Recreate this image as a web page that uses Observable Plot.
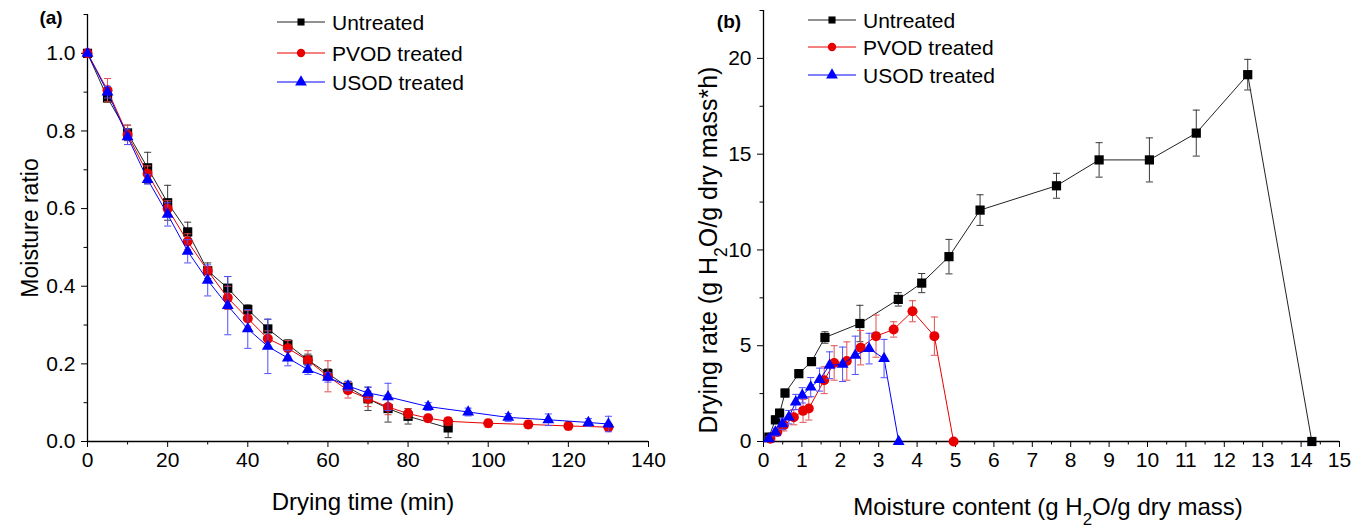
<!DOCTYPE html>
<html><head><meta charset="utf-8">
<script src="https://cdn.jsdelivr.net/npm/d3@7"></script>
<script src="https://cdn.jsdelivr.net/npm/@observablehq/plot@0.6"></script>
<style>
body{margin:0;background:#fff;}
#wrap{position:relative;width:1358px;height:527px;overflow:hidden;font-family:"Liberation Sans",Arial,sans-serif;}
#wrap svg{position:absolute;top:0;}
</style></head><body><div id="wrap"></div>
<script>
// ---------- Panel (a): moisture ratio vs drying time ----------
const seriesNames = ["Untreated", "PVOD treated", "USOD treated"];

const timeUntreated = [0,5,10,15,20,25,30,35,40,45,50,55,60,65,70,75,80,90];
const mrUntreated   = [1.0,0.885,0.795,0.705,0.615,0.54,0.44,0.395,0.34,0.29,0.25,0.21,0.175,0.14,0.11,0.085,0.065,0.035];
const mrErrUntreated= [0,0.01,0.02,0.04,0.045,0.025,0.02,0.03,0.012,0.025,0.012,0.015,0.012,0.015,0.03,0.035,0.02,0.025];

const timePVOD = [0,5,10,15,20,25,30,35,40,45,50,55,60,65,70,75,80,85,90,100,110,120,130];
const mrPVOD   = [1.0,0.905,0.79,0.69,0.6,0.515,0.44,0.37,0.317,0.265,0.24,0.209,0.168,0.132,0.11,0.089,0.072,0.06,0.052,0.047,0.044,0.04,0.037];
const mrErrPVOD= [0,0.03,0.025,0.02,0.02,0.02,0.01,0.03,0.02,0.02,0.02,0.025,0.04,0.02,0.02,0.02,0.012,0.01,0.01,0.01,0.01,0.01,0.01];

const timeUSOD = [0,5,10,15,20,25,30,35,40,45,50,55,60,65,70,75,85,95,105,115,125,130];
const mrUSOD   = [1.0,0.9,0.785,0.675,0.585,0.49,0.415,0.35,0.29,0.245,0.215,0.185,0.165,0.143,0.125,0.115,0.09,0.076,0.062,0.056,0.049,0.045];
const mrErrUSOD= [0,0.015,0.02,0.012,0.03,0.03,0.04,0.075,0.05,0.07,0.02,0.012,0.012,0.012,0.015,0.035,0.01,0.01,0.01,0.015,0.01,0.02];

const timeTicks = [0,20,40,60,80,100,120,140];
const mrTicks = [0,0.2,0.4,0.6,0.8,1.0];

// ---------- Panel (b): drying rate vs moisture content ----------
const mcUntreated   = [0.14,0.31,0.42,0.56,0.92,1.25,1.6,2.51,3.51,4.12,4.83,5.64,7.63,8.74,10.05,11.27,12.61,14.28];
const rateUntreated = [0.23,1.13,1.48,2.53,3.54,4.17,5.43,6.16,7.42,8.27,9.65,12.08,13.35,14.7,14.7,16.1,19.15,0];
const rateErrUntreated = [0.15,0.2,0.2,0.2,0.2,0.2,0.3,0.95,0.35,0.5,0.9,0.8,0.65,0.9,1.15,1.2,0.8,0];

const mcPVOD   = [0.18,0.36,0.53,0.79,1.03,1.18,1.58,1.84,2.17,2.53,2.93,3.39,3.88,4.45,4.95];
const ratePVOD = [0.15,0.5,0.85,1.27,1.6,1.72,3.2,4.1,4.2,4.9,5.5,5.85,6.8,5.5,0];
const rateErrPVOD = [0.15,0.2,0.3,0.4,0.6,0.6,0.7,0.9,1.0,0.9,1.1,0.4,0.55,1.0,0];

const mcUSOD   = [0.14,0.31,0.49,0.66,0.84,1.01,1.23,1.46,1.72,2.06,2.39,2.75,3.14,3.52];
const rateUSOD = [0.14,0.49,0.92,1.27,2.06,2.41,2.84,3.23,3.98,4.03,4.5,4.85,4.33,0];
const rateErrUSOD = [0.1,0.2,0.3,0.35,0.4,0.4,0.5,0.6,0.7,0.9,1.0,0.8,1.0,0];

const mcTicks = [0,1,2,3,4,5,6,7,8,9,10,11,12,13,14,15];
const rateTicks = [0,5,10,15,20];

// ---------- styling ----------
const colors    = ["#000000", "#e80000", "#0000ff"];
const barColors = ["#3a3a3a", "#e25050", "#4f4fff"];
const lineColors= ["#222222", "#e80000", "#0000ff"];
const symbols   = ["square", "circle", "triangle"];
const symR      = [5.2, 5, 4.4];
const FONT = "'Liberation Sans', Arial, sans-serif";
const TICKFONT = 21;

const cap = {draw(ctx, size) { const w = Math.sqrt(size) / 2; ctx.moveTo(-w, 0); ctx.lineTo(w, 0); }};

function rows(xs, ys, es) { return xs.map((x, i) => ({x, y: ys[i], e: es[i]})); }

function seriesMarks(data, k) {
  const eb = data.filter(d => d.e > 0);
  return [
    Plot.line(data, {x: "x", y: "y", stroke: lineColors[k], strokeWidth: 1}),
    Plot.ruleX(eb, {x: "x", y1: d => d.y - d.e, y2: d => d.y + d.e, stroke: barColors[k], strokeWidth: 1}),
    Plot.dot(eb, {x: "x", y: d => d.y + d.e, symbol: cap, r: 4, stroke: barColors[k], fill: "none", strokeWidth: 1}),
    Plot.dot(eb, {x: "x", y: d => d.y - d.e, symbol: cap, r: 4, stroke: barColors[k], fill: "none", strokeWidth: 1}),
    Plot.dot(data, {x: "x", y: "y", symbol: symbols[k], r: symR[k], fill: colors[k], stroke: "none"})
  ];
}

function addLegend(svg, x0, ys, fontSize) {
  const g = d3.select(svg).append("g");
  seriesNames.forEach((name, k) => {
    const y = ys[k];
    g.append("line").attr("x1", x0).attr("x2", x0 + 48).attr("y1", y).attr("y2", y)
      .attr("stroke", lineColors[k]).attr("stroke-width", 1);
    g.append("path").attr("transform", `translate(${x0 + 24},${y})`)
      .attr("d", d3.symbol().type([d3.symbolSquare, d3.symbolCircle, d3.symbolTriangle][k]).size([50, 55, 60][k])())
      .attr("fill", colors[k]);
    g.append("text").attr("x", x0 + 55).attr("y", y).attr("dy", "0.36em")
      .attr("text-anchor", "start")
      .attr("font-size", fontSize).attr("font-family", FONT).attr("fill", "#000").text(name);
  });
}

function addText(svg, x, y, parts, opts = {}) {
  const t = d3.select(svg).append("text")
    .attr("x", x).attr("y", y)
    .attr("text-anchor", opts.anchor || "middle")
    .attr("font-family", FONT)
    .attr("font-size", opts.size || 22)
    .attr("font-weight", opts.weight || "normal")
    .attr("fill", "#000");
  if (opts.rotate) t.attr("transform", `rotate(-90,${x},${y})`);
  parts.forEach(p => {
    if (typeof p === "string") t.append("tspan").text(p);
    else t.append("tspan").attr("baseline-shift", "sub").attr("font-size", "70%").text(p.sub);
  });
  return t;
}

// ---------- build panel (a) ----------
const dataA = [rows(timeUntreated, mrUntreated, mrErrUntreated), rows(timePVOD, mrPVOD, mrErrPVOD), rows(timeUSOD, mrUSOD, mrErrUSOD)];
const plotA = Plot.plot({
  width: 690, height: 527,
  marginLeft: 87, marginRight: 42, marginTop: 14, marginBottom: 86,
  style: {fontFamily: FONT, fontSize: TICKFONT + "px", color: "#000", background: "transparent", overflow: "visible"},
  x: {domain: [0, 140]},
  y: {domain: [0, 1.1]},
  marks: [
    Plot.axisX({ticks: timeTicks, tickSize: 6, tickPadding: 5, label: null, fontSize: TICKFONT}),
    Plot.axisX({ticks: d3.range(10, 140, 20), tickSize: 3.5, tickFormat: () => "", label: null}),
    Plot.axisY({ticks: mrTicks, tickSize: 6, tickPadding: 6, tickFormat: d3.format(".1f"), label: null, fontSize: TICKFONT}),
    Plot.axisY({ticks: [0.1,0.3,0.5,0.7,0.9,1.1], tickSize: 3.5, tickFormat: () => "", label: null}),
    Plot.ruleY([0], {stroke: "#000", strokeWidth: 1.3}),
    Plot.ruleX([0], {stroke: "#000", strokeWidth: 1.3}),
    ...seriesMarks(dataA[0], 0),
    ...seriesMarks(dataA[1], 1),
    ...seriesMarks(dataA[2], 2)
  ]
});
plotA.style.left = "0px";
document.getElementById("wrap").appendChild(plotA);
addLegend(plotA, 277, [22, 53, 82], 21);
addText(plotA, 363, 510, ["Drying time (min)"], {size: 24});
addText(plotA, 38, 228, ["Moisture ratio"], {size: 23, rotate: true});
addText(plotA, 51, 24, ["(a)"], {size: 19, weight: "bold"});

// ---------- build panel (b) ----------
const dataB = [rows(mcUntreated, rateUntreated, rateErrUntreated), rows(mcPVOD, ratePVOD, rateErrPVOD), rows(mcUSOD, rateUSOD, rateErrUSOD)];
const plotB = Plot.plot({
  width: 668, height: 527,
  marginLeft: 73, marginRight: 19, marginTop: 10, marginBottom: 86,
  style: {fontFamily: FONT, fontSize: TICKFONT + "px", color: "#000", background: "transparent", overflow: "visible"},
  x: {domain: [0, 15]},
  y: {domain: [0, 22.5]},
  marks: [
    Plot.axisX({ticks: mcTicks, tickSize: 6, tickPadding: 5, label: null, fontSize: TICKFONT}),
    Plot.axisX({ticks: d3.range(0.5, 15, 1), tickSize: 3.5, tickFormat: () => "", label: null}),
    Plot.axisY({ticks: rateTicks, tickSize: 6, tickPadding: 6, label: null, fontSize: TICKFONT}),
    Plot.axisY({ticks: [2.5, 7.5, 12.5, 17.5, 22.5], tickSize: 3.5, tickFormat: () => "", label: null}),
    Plot.ruleY([0], {stroke: "#000", strokeWidth: 1.3}),
    Plot.ruleX([0], {stroke: "#000", strokeWidth: 1.3}),
    ...seriesMarks(dataB[0], 0),
    ...seriesMarks(dataB[1], 1),
    ...seriesMarks(dataB[2], 2)
  ]
});
plotB.style.left = "690px";
document.getElementById("wrap").appendChild(plotB);
addLegend(plotB, 118, [20, 47, 75], 21);
addText(plotB, 358, 515, ["Moisture content (g H", {sub: "2"}, "O/g dry mass)"], {size: 24});
addText(plotB, 27, 250, ["Drying rate (g H", {sub: "2"}, "O/g dry mass*h)"], {size: 25, rotate: true});
addText(plotB, 39, 28, ["(b)"], {size: 19, weight: "bold"});
</script>
</body></html>
